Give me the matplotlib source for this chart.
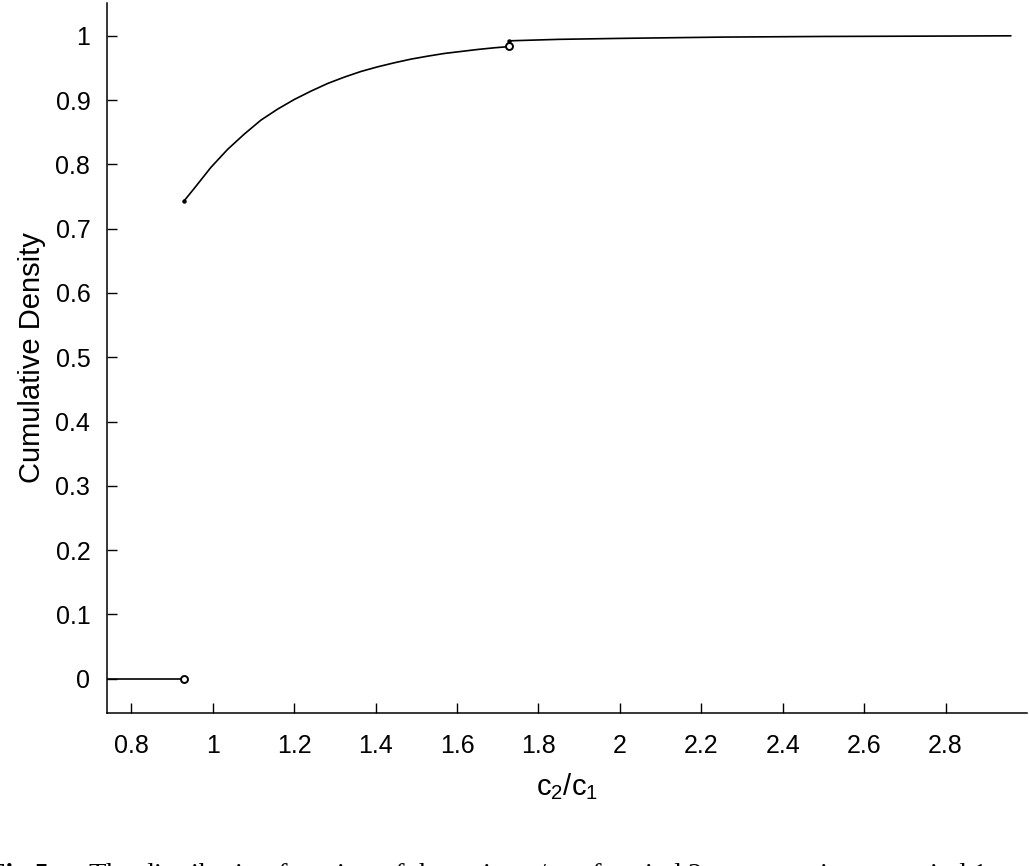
"""
Distribution function of c2/c1 (cumulative density with two jumps).
"""

import matplotlib
matplotlib.use("Agg")
import matplotlib.pyplot as plt

plt.rcParams["font.family"] = ["Liberation Sans", "DejaVu Sans"]
plt.rcParams["mathtext.fontset"] = "custom"
plt.rcParams["mathtext.rm"] = "Liberation Sans"
plt.rcParams["mathtext.it"] = "Liberation Sans"

# lower flat piece (below the first jump)
low_x = [0.74, 0.93]
low_y = [0.0, 0.0]

# continuous part between the two jumps
mid_x = [0.9296, 0.9542, 0.9952, 1.0362, 1.0772, 1.1182, 1.1592, 1.2002, 1.2412,
         1.2822, 1.3232, 1.3642, 1.4052, 1.4462, 1.4872, 1.5282, 1.5692, 1.6102,
         1.6512, 1.6922, 1.7209, 1.727]
mid_y = [0.7434, 0.7626, 0.7953, 0.8233, 0.8471, 0.8689, 0.8860, 0.9010, 0.9140,
         0.9259, 0.9358, 0.9446, 0.9518, 0.9581, 0.9638, 0.9684, 0.9726, 0.9757,
         0.9788, 0.9814, 0.9829, 0.9835]

# upper part after the second jump
high_x = [1.727, 1.85, 2.0, 2.25, 2.5, 2.75, 2.96]
high_y = [0.9922, 0.9945, 0.996, 0.998, 0.999, 0.9995, 1.0]

# open circles at the jumps (left limits)
open_x = [0.93, 1.727]
open_y = [0.0, 0.9835]

xticks = [0.8, 1.0, 1.2, 1.4, 1.6, 1.8, 2.0, 2.2, 2.4, 2.6, 2.8]
xticklabels = ["0.8", "1", "1.2", "1.4", "1.6", "1.8", "2", "2.2", "2.4", "2.6", "2.8"]
yticks = [0, 0.1, 0.2, 0.3, 0.4, 0.5, 0.6, 0.7, 0.8, 0.9, 1.0]
yticklabels = ["0", "0.1", "0.2", "0.3", "0.4", "0.5", "0.6", "0.7", "0.8", "0.9", "1"]

caption_head = "Fig 5."
caption_body = ("The distribution function of the ratio c$_2$/c$_1$ of period 2 "
                "consumption to period 1 consumption.")


def main() -> None:
    fig = plt.figure(figsize=(10.29, 8.66), dpi=100)
    ax = fig.add_axes([0.104, 0.177, 0.894, 0.8195])

    lw = 1.2
    ax.plot(low_x, low_y, color="black", lw=lw)
    ax.plot(mid_x, mid_y, color="black", lw=lw)
    ax.plot(high_x, high_y, color="black", lw=lw)
    ax.plot([mid_x[0], high_x[0]], [mid_y[0], high_y[0]], "o", color="black", ms=2.2, ls="none")
    ax.plot(open_x, open_y, "o", mfc="white", mec="black", mew=1.4, ms=5, ls="none")

    ax.set_xlim(0.74, 3.0)
    ax.set_ylim(-0.053, 1.051)
    ax.set_xticks(xticks)
    ax.set_xticklabels(xticklabels)
    ax.set_yticks(yticks)
    ax.set_yticklabels(yticklabels)
    ax.tick_params(axis="both", direction="in", length=7, width=1, labelsize=18)
    ax.tick_params(axis="x", pad=15.5)
    ax.tick_params(axis="y", pad=12)
    for side in ("top", "right"):
        ax.spines[side].set_visible(False)
    for side in ("left", "bottom"):
        ax.spines[side].set_linewidth(1.1)

    ax.set_xlabel("c$_2$/c$_1$", fontsize=21, labelpad=9)
    ax.set_ylabel("Cumulative Density", fontsize=21, labelpad=7)

    # caption, cut off at the bottom edge as in the source page
    serif = ["Liberation Serif", "DejaVu Serif"]
    fig.text(-0.0117, -0.0185, caption_head, fontsize=20.5, fontweight="bold",
             va="baseline", ha="left", family=serif)
    fig.text(0.0855, -0.0185, caption_body, fontsize=20.5, va="baseline", ha="left",
             family=serif)

    fig.savefig("out.png", dpi=100)
    plt.close(fig)


if __name__ == "__main__":
    main()
